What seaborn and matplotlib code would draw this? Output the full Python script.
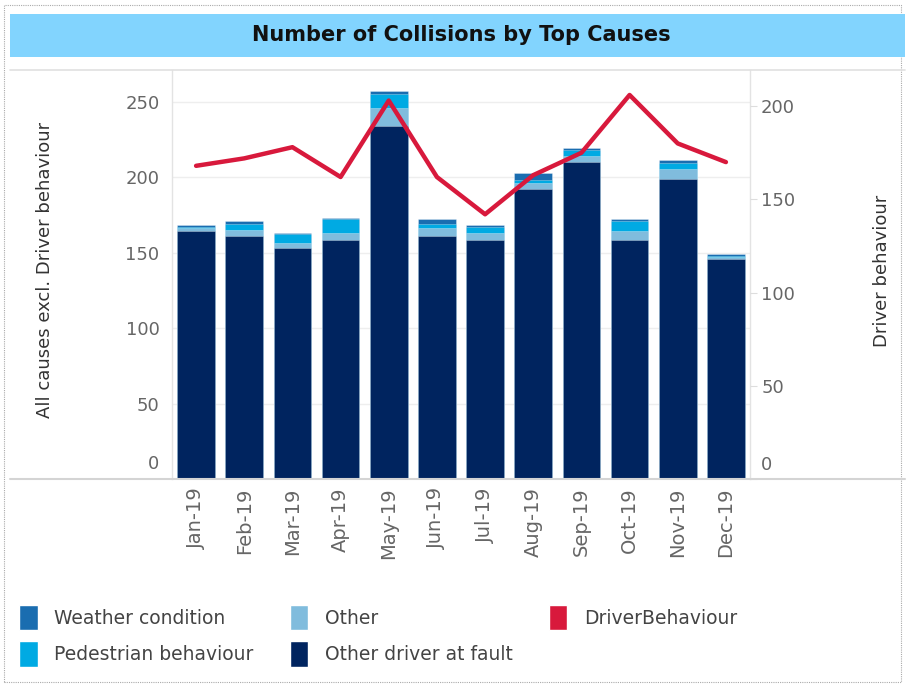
import numpy as np
import pandas as pd
import matplotlib
matplotlib.use("Agg")
import matplotlib.pyplot as plt
import seaborn as sns
from matplotlib.patches import Patch, Rectangle
from matplotlib.lines import Line2D
import matplotlib.transforms as mtrans

# ---------------- data ----------------
months = ["Jan-19", "Feb-19", "Mar-19", "Apr-19", "May-19", "Jun-19",
          "Jul-19", "Aug-19", "Sep-19", "Oct-19", "Nov-19", "Dec-19"]
other_driver_at_fault = [164, 161, 153, 158, 234, 161, 158, 192, 210, 158, 199, 146]
other = [2, 4, 3, 5, 12, 5, 5, 4, 4, 6, 6, 1]
pedestrian_behaviour = [1, 4, 6, 9, 9, 3, 4, 2, 4, 7, 4, 1]
weather_condition = [1, 2, 1, 1, 2, 3, 1, 5, 1, 1, 2, 1]
driver_behaviour = [168, 172, 178, 162, 203, 162, 142, 163, 175, 206, 180, 170]

left_ticks = [0, 50, 100, 150, 200, 250]
right_ticks = [0, 50, 100, 150, 200]

# ---------------- style ----------------
sns.set_style("white")
plt.rcParams["font.family"] = ["DejaVu Sans"]

C_WEATHER = "#1a6db0"
C_PED = "#00aae3"
C_OTHER = "#80bcdd"
C_NAVY = "#00245f"
C_RED = "#d8193c"
GRAY_TXT = "#666666"

W, H = 907, 686
fig = plt.figure(figsize=(W / 100, H / 100), dpi=100)

def fx(px):
    return px / W

def fy(py):
    return 1 - py / H

AX_L, AX_R, AX_T, AX_B = 172, 750, 70, 479
ax = fig.add_axes([fx(AX_L), fy(AX_B), fx(AX_R) - fx(AX_L), fy(AX_T) - fy(AX_B)])

df = pd.DataFrame({
    "month": months,
    "odf": other_driver_at_fault,
    "other": other,
    "ped": pedestrian_behaviour,
    "weather": weather_condition,
})
df["c1"] = df["odf"]
df["c2"] = df["c1"] + df["other"]
df["c3"] = df["c2"] + df["ped"]
df["c4"] = df["c3"] + df["weather"]

for col, color in [("c4", C_WEATHER), ("c3", C_PED), ("c2", C_OTHER), ("c1", C_NAVY)]:
    sns.barplot(data=df, x="month", y=col, color=color, saturation=1,
                width=0.78, ax=ax, edgecolor=(1, 1, 1, 0.35), linewidth=0.6)

ax.set_xlim(-0.5, 11.5)
ax.set_ylim(0, 270.9)
ax.set_yticks(left_ticks)
ax.set_yticklabels([str(t) for t in left_ticks])
ax.yaxis.grid(True, color="#eeeeee", linewidth=1)
ax.set_axisbelow(True)
ax.set_xlabel("")
ax.set_ylabel("All causes excl. Driver behaviour", fontsize=13, color="#333333")
ax.yaxis.set_label_coords((54 - AX_L) / (AX_R - AX_L), 0.51)
ax.tick_params(axis="y", colors="#dddddd", labelcolor=GRAY_TXT, labelsize=13,
               length=0, pad=9)
ax.tick_params(axis="x", labelcolor=GRAY_TXT, labelsize=14, length=0, pad=6,
               labelrotation=90)
for s in ["top", "bottom"]:
    ax.spines[s].set_visible(False)
for s in ["left", "right"]:
    ax.spines[s].set_color("#e3e3e3")
    ax.spines[s].set_linewidth(1)

# separators between categories below the axis
ax.set_xticks(np.arange(-0.5, 12, 1), minor=True)
ax.tick_params(axis="x", which="minor", length=9, color="#e6e6e6", width=1)

# right axis: DriverBehaviour line
ax2 = ax.twinx()
sns.lineplot(x=np.arange(len(months)), y=driver_behaviour, ax=ax2, color=C_RED,
             linewidth=3.2)
ax2.set_xlim(-0.5, 11.5)
ax2.set_ylim(0, 219.4)
ax2.set_yticks(right_ticks)
ax2.set_yticklabels([str(t) for t in right_ticks])
ax2.set_ylabel("Driver behaviour", fontsize=13, color="#333333", rotation=90)
ax2.yaxis.set_label_coords((873 - AX_L) / (AX_R - AX_L), 0.51)
ax2.tick_params(axis="y", colors="#dddddd", labelcolor=GRAY_TXT, labelsize=13,
                length=5, pad=3)
for s in ax2.spines.values():
    s.set_visible(False)

# shift the "0" tick labels up like the reference
for a, dy in [(ax, 17), (ax2, 16)]:
    lab = a.get_yticklabels()[0]
    lab.set_transform(lab.get_transform() + mtrans.ScaledTranslation(0, dy / 100, fig.dpi_scale_trans))

# ---------------- decorations ----------------
# outer dotted border
fig.add_artist(Rectangle((fx(4), fy(682)), fx(901) - fx(4), fy(5) - fy(682),
                         transform=fig.transFigure, fill=False,
                         edgecolor="#aaaaaa", linestyle=(0, (1, 1)), linewidth=0.8))
# title band
fig.add_artist(Rectangle((fx(10), fy(57)), fx(905) - fx(10), fy(14) - fy(57),
                         transform=fig.transFigure, facecolor="#82d4fe",
                         edgecolor="none"))
fig.text(fx(461), fy(35), "Number of Collisions by Top Causes", ha="center",
         va="center", fontsize=15, fontweight="bold", color="#111111")
# header / baseline lines
fig.add_artist(Line2D([fx(10), fx(905)], [fy(70), fy(70)], transform=fig.transFigure,
                      color="#e0e0e0", linewidth=1.2))
fig.add_artist(Line2D([fx(10), fx(905)], [fy(479), fy(479)], transform=fig.transFigure,
                      color="#d4d4d4", linewidth=1.5))

# legend
handles = [Patch(facecolor=C_WEATHER, label="Weather condition"),
           Patch(facecolor=C_PED, label="Pedestrian behaviour"),
           Patch(facecolor=C_OTHER, label="Other"),
           Patch(facecolor=C_NAVY, label="Other driver at fault"),
           Patch(facecolor=C_RED, label="DriverBehaviour")]
fig.legend(handles=handles, ncol=3, loc="upper left",
           bbox_to_anchor=(fx(2), fy(588)), frameon=False, fontsize=13.5,
           handlelength=1.0, handleheight=1.7, handletextpad=0.9,
           columnspacing=1.9, labelspacing=0.6, labelcolor="#444444")

fig.savefig("out.png", dpi=100)
